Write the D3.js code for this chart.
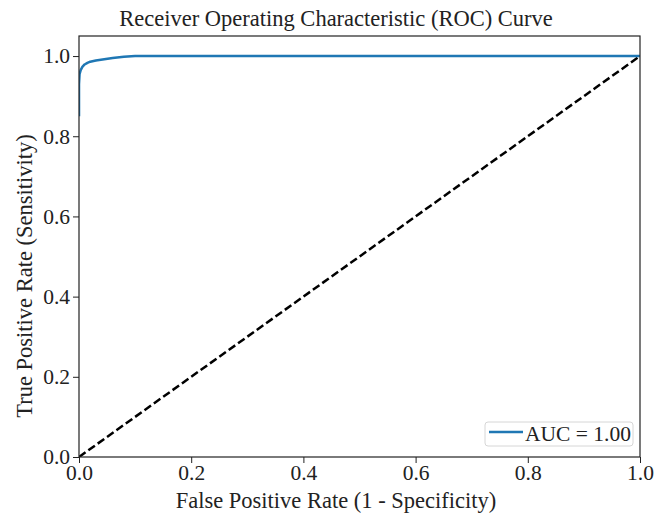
<!DOCTYPE html>
<html>
<head>
<meta charset="utf-8">
<script src="https://cdn.jsdelivr.net/npm/d3@7"></script>
<style>
  body { margin: 0; background: #fff; }
  svg { display: block; font-family: "Liberation Serif", "Times New Roman", serif; }
</style>
</head>
<body>
<svg width="665" height="516"></svg>
<script>

// ROC curve values
const fpr = [0, 0, 0.001, 0.003, 0.006, 0.01, 0.015, 0.02, 0.03, 0.045, 0.06, 0.08, 0.1, 1.0];
const tpr = [0.85, 0.93, 0.955, 0.965, 0.973, 0.979, 0.983, 0.986, 0.989, 0.992, 0.995, 0.998, 1.0, 1.0];

const chance_x = [0, 1];
const chance_y = [0, 1];

const tick_values = [0, 0.2, 0.4, 0.6, 0.8, 1.0];
const auc_label = "AUC = 1.00";

const svg = d3.select('svg');

const width = +svg.attr('width');
const height = +svg.attr('height');

const margin = {top: 36, right: 25, bottom: 59, left: 79};
const innerWidth = width - margin.left - margin.right;
const innerHeight = height - margin.top - margin.bottom;

const x = d3.scaleLinear().domain([0, 1]).range([0, innerWidth]);
const y = d3.scaleLinear().domain([0, 1.05]).range([innerHeight, 0]);

const g = svg.append('g')
    .attr('transform', `translate(${margin.left}, ${margin.top})`);

svg.append('defs').append('clipPath')
    .attr('id', 'clip')
    .append('rect')
    .attr('width', innerWidth)
    .attr('height', innerHeight);

// chance line
g.append('path')
    .datum(chance_x.map((d, i) => [d, chance_y[i]]))
    .attr('clip-path', 'url(#clip)')
    .attr('fill', 'none')
    .attr('stroke', '#000')
    .attr('stroke-width', 2.5)
    .attr('stroke-dasharray', '8,3.5')
    .attr('d', d3.line().x(d => x(d[0])).y(d => y(d[1])));

// roc curve
g.append('path')
    .datum(fpr.map((d, i) => [d, tpr[i]]))
    .attr('clip-path', 'url(#clip)')
    .attr('fill', 'none')
    .attr('stroke', '#1f77b4')
    .attr('stroke-width', 2.5)
    .attr('stroke-linejoin', 'round')
    .attr('d', d3.line().x(d => x(d[0])).y(d => y(d[1])));

// axes
const xAxis = g.append('g')
    .attr('transform', `translate(0, ${innerHeight})`)
    .call(d3.axisBottom(x).tickValues(tick_values).tickFormat(d3.format('.1f')).tickSize(6).tickPadding(2));

const yAxis = g.append('g')
    .call(d3.axisLeft(y).tickValues(tick_values).tickFormat(d3.format('.1f')).tickSize(6).tickPadding(3));

[xAxis, yAxis].forEach(a => {
    a.select('.domain').remove();
    a.selectAll('text')
        .attr('font-family', '"Liberation Serif", serif')
        .attr('font-size', 21.5)
        .attr('fill', '#222');
    a.selectAll('line').attr('stroke', '#222').attr('stroke-width', 1);
});

// frame
g.append('rect')
    .attr('width', innerWidth)
    .attr('height', innerHeight)
    .attr('fill', 'none')
    .attr('stroke', '#222')
    .attr('stroke-width', 1.2);

// title & labels (the picture has them a bit left of / below the axes centre)
svg.append('text')
    .attr('x', 336)
    .attr('y', 26)
    .attr('text-anchor', 'middle')
    .attr('font-size', 22.5)
    .attr('fill', '#222')
    .text('Receiver Operating Characteristic (ROC) Curve');

svg.append('text')
    .attr('x', 336)
    .attr('y', 508)
    .attr('text-anchor', 'middle')
    .attr('font-size', 22.5)
    .attr('fill', '#222')
    .text('False Positive Rate (1 - Specificity)');

svg.append('text')
    .attr('transform', `translate(32, 276) rotate(-90)`)
    .attr('text-anchor', 'middle')
    .attr('font-size', 22.5)
    .attr('fill', '#222')
    .text('True Positive Rate (Sensitivity)');

// legend
const legend = g.append('g')
    .attr('transform', `translate(${innerWidth - 155}, ${innerHeight - 35})`);

legend.append('rect')
    .attr('width', 148)
    .attr('height', 24)
    .attr('rx', 3)
    .attr('fill', '#fff')
    .attr('fill-opacity', 0.8)
    .attr('stroke', '#d6d6d6');

legend.append('line')
    .attr('x1', 4).attr('x2', 38)
    .attr('y1', 10).attr('y2', 10)
    .attr('stroke', '#1f77b4')
    .attr('stroke-width', 2.5);

legend.append('text')
    .attr('x', 40)
    .attr('y', 19)
    .attr('font-size', 21.5)
    .attr('fill', '#222')
    .text(auc_label);

</script>
</body>
</html>
